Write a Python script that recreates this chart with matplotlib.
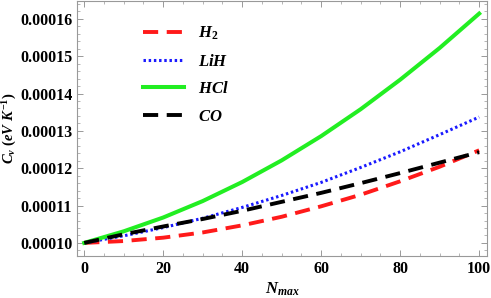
import matplotlib
matplotlib.use("Agg")
import matplotlib.pyplot as plt
from matplotlib.ticker import MultipleLocator, FormatStrFormatter

plt.rcParams['font.family'] = ['Liberation Serif', 'DejaVu Serif']
plt.rcParams['font.weight'] = 'bold'
plt.rcParams['mathtext.fontset'] = 'custom'
plt.rcParams['mathtext.rm'] = 'Liberation Serif:bold'
plt.rcParams['mathtext.it'] = 'Liberation Serif:italic:bold'
plt.rcParams['mathtext.bf'] = 'Liberation Serif:bold'

N = [0, 10, 20, 30, 40, 50, 60, 70, 80, 90, 100]
H2 = [0.0001000, 0.0001005, 0.0001014, 0.0001028, 0.0001047, 0.0001070,
      0.0001098, 0.0001129, 0.0001165, 0.0001204, 0.0001248]
LiH = [0.0001000, 0.0001019, 0.0001041, 0.0001066, 0.0001095, 0.0001127,
       0.0001162, 0.0001202, 0.0001244, 0.0001290, 0.0001337]
HCl = [0.0001000, 0.0001031, 0.0001068, 0.0001112, 0.0001163, 0.0001221,
       0.0001286, 0.0001358, 0.0001437, 0.0001522, 0.0001614]
CO = [0.0001000, 0.0001023, 0.0001044, 0.0001064, 0.0001086, 0.0001110,
      0.0001134, 0.0001160, 0.0001187, 0.0001215, 0.0001243]

fig = plt.figure(figsize=(4.91, 2.98), dpi=100)
ax = fig.add_axes([0.157, 0.141, 0.835, 0.856])

ax.plot(N, H2, color='#ff1a1a', lw=2.8, dashes=(3.9, 2.2), label=r'$H_2$')
ax.plot(N, LiH, color='#1a1aff', lw=2.2, dashes=(0.8, 0.9), label=r'$LiH$')
ax.plot(N, HCl, color='#22ee22', lw=2.9, label=r'$HCl$')
ax.plot(N, CO, color='black', lw=2.8, dashes=(3.9, 2.2), label=r'$CO$')

ax.set_xlim(-1.8, 102)
ax.set_ylim(0.0000965, 0.0001648)

ax.xaxis.set_major_locator(MultipleLocator(20))
ax.xaxis.set_minor_locator(MultipleLocator(5))
ax.yaxis.set_major_locator(MultipleLocator(0.00001))
ax.yaxis.set_minor_locator(MultipleLocator(0.000002))
ax.yaxis.set_major_formatter(FormatStrFormatter('%.5f'))

ax.tick_params(which='both', direction='in', top=True, right=True,
               color='#999999', labelsize=11.5)
ax.tick_params(which='major', length=4, width=0.7)
ax.tick_params(which='minor', length=2, width=0.5)
for lab in ax.get_xticklabels() + ax.get_yticklabels():
    lab.set_fontweight('bold')
for s in ax.spines.values():
    s.set_color('#999999')
    s.set_linewidth(0.8)

ax.set_xlabel(r'$N_{max}$', fontsize=12)
ax.set_ylabel(r'$C_v\ (eV\ K^{-1})$', fontsize=10.5)
ax.xaxis.set_label_coords(0.5, -0.095)
ax.yaxis.set_label_coords(-0.142, 0.5)

leg = ax.legend(loc='upper left', bbox_to_anchor=(0.14, 0.94), frameon=False,
                fontsize=12, handlelength=2.5, labelspacing=0.7,
                borderpad=0, handletextpad=0.8)

fig.savefig('out.png', dpi=100)
